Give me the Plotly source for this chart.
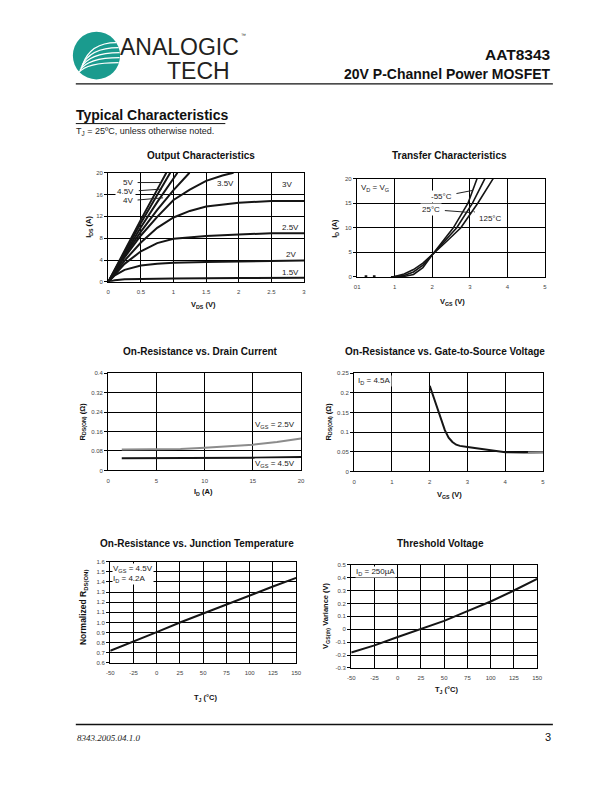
import plotly.graph_objects as go

W, H = 612, 792
FONT = "Liberation Sans, Arial, Helvetica, sans-serif"

# ---------------- data ----------------
# Output characteristics: VDS (V) vs IDS (A) for several VGS
oc_5v_x = [0, 0.25, 0.5, 0.75, 0.89]
oc_5v_y = [0, 5.8, 11.4, 16.9, 20]
oc_45v_x = [0, 0.25, 0.5, 0.75, 0.95]
oc_45v_y = [0, 5.5, 10.8, 15.9, 20]
oc_4v_x = [0, 0.25, 0.5, 0.75, 1.06]
oc_4v_y = [0, 5.1, 10.0, 14.6, 20]
oc_x4_x = [0, 0.25, 0.5, 0.75, 1.0, 1.245]
oc_x4_y = [0, 4.8, 9.2, 13.2, 16.8, 20]
oc_35v_x = [0, 0.25, 0.5, 0.75, 1.0, 1.25, 1.5, 1.75, 1.92]
oc_35v_y = [0, 4.5, 8.5, 11.9, 15.0, 16.9, 18.5, 19.5, 20]
oc_3v_x = [0, 0.25, 0.5, 0.75, 1.0, 1.25, 1.5, 2.0, 2.5, 3.0]
oc_3v_y = [0, 3.9, 7.2, 9.9, 11.8, 13.0, 13.8, 14.5, 14.8, 14.8]
oc_25v_x = [0, 0.25, 0.5, 0.75, 1.0, 1.5, 2.0, 2.5, 3.0]
oc_25v_y = [0, 3.3, 5.6, 7.1, 7.9, 8.4, 8.7, 8.9, 8.9]
oc_2v_x = [0, 0.1, 0.25, 0.5, 0.75, 1.0, 1.5, 2.0, 3.0]
oc_2v_y = [0, 1.2, 2.2, 3.0, 3.3, 3.5, 3.65, 3.75, 3.9]
oc_15v_x = [0, 0.1, 0.25, 0.5, 1.0, 2.0, 3.0]
oc_15v_y = [0, 0.3, 0.5, 0.55, 0.62, 0.7, 0.75]

# Transfer characteristics: VGS (V) vs ID (A)
tc_m55_x = [1.05, 1.25, 1.5, 1.75, 2.0, 2.25, 2.56, 2.95, 3.19]
tc_m55_y = [0.0, 0.1, 0.5, 1.9, 4.5, 7.0, 10.0, 15.0, 20.0]
tc_25_x = [0.95, 1.25, 1.5, 1.75, 2.0, 2.3, 2.65, 3.07, 3.40]
tc_25_y = [0.0, 0.3, 1.0, 2.4, 4.5, 7.0, 10.0, 15.0, 20.0]
tc_125_x = [0.9, 1.0, 1.25, 1.5, 1.75, 2.0, 2.35, 2.76, 3.21, 3.62]
tc_125_y = [0.0, 0.1, 0.6, 1.5, 2.8, 4.5, 7.0, 10.0, 15.0, 20.0]
tc_dash_x = [0.2, 0.27, None, 0.42, 0.49]
tc_dash_y = [0.15, 0.15, None, 0.15, 0.15]

# On-resistance vs drain current
rd_25_x = [1.4, 5, 7.5, 10, 12.5, 15, 17.5, 20]
rd_25_y = [0.086, 0.087, 0.088, 0.093, 0.099, 0.106, 0.117, 0.131]
rd_45_x = [1.4, 5, 10, 15, 20]
rd_45_y = [0.050, 0.050, 0.050, 0.052, 0.055]

# On-resistance vs gate-to-source voltage
rg_x = [2.0, 2.1, 2.2, 2.3, 2.4, 2.5, 2.6, 2.7, 2.8, 3.0, 3.5, 4.0, 4.5, 5.0]
rg_y = [0.218, 0.19, 0.16, 0.13, 0.105, 0.086, 0.075, 0.068, 0.065, 0.062, 0.055, 0.049, 0.048, 0.049]
rg_tail_x = [4.6, 5.0]
rg_tail_y = [0.048, 0.049]

# Normalized on-resistance vs junction temperature
rt_x = [-50, -25, 0, 25, 50, 75, 100, 125, 150]
rt_y = [0.72, 0.81, 0.905, 1.0, 1.09, 1.18, 1.27, 1.355, 1.44]

# Threshold voltage variance vs junction temperature
vt_x = [-50, -25, 0, 25, 50, 75, 100, 125, 150]
vt_y = [-0.18, -0.125, -0.06, 0.0, 0.065, 0.14, 0.215, 0.30, 0.39]

# tick labels
oc_xt = [0, 0.5, 1, 1.5, 2, 2.5, 3]
oc_xl = ["0", "0.5", "1", "1.5", "2", "2.5", "3"]
oc_yt = [0, 4, 8, 12, 16, 20]
oc_yl = ["0", "4", "8", "12", "16", "20"]
tc_xt = [0, 1, 2, 3, 4, 5]
tc_xl = ["01", "1", "2", "3", "4", "5"]
tc_yt = [0, 5, 10, 15, 20]
tc_yl = ["0", "5", "10", "15", "20"]
rd_xt = [0, 5, 10, 15, 20]
rd_xl = ["0", "5", "10", "15", "20"]
rd_yt = [0, 0.08, 0.16, 0.24, 0.32, 0.4]
rd_yl = ["0", "0.08", "0.16", "0.24", "0.32", "0.4"]
rg_xt = [0, 1, 2, 3, 4, 5]
rg_xl = ["0", "1", "2", "3", "4", "5"]
rg_yt = [0, 0.05, 0.1, 0.15, 0.2, 0.25]
rg_yl = ["0", "0.05", "0.1", "0.15", "0.2", "0.25"]
t_xt = [-50, -25, 0, 25, 50, 75, 100, 125, 150]
t_xl = ["-50", "-25", "0", "25", "50", "75", "100", "125", "150"]
rt_yt = [0.6, 0.7, 0.8, 0.9, 1.0, 1.1, 1.2, 1.3, 1.4, 1.5, 1.6]
rt_yl = ["0.6", "0.7", "0.8", "0.9", "1.0", "1.1", "1.2", "1.3", "1.4", "1.5", "1.6"]
vt_yt = [-0.3, -0.2, -0.1, 0, 0.1, 0.2, 0.3, 0.4, 0.5]
vt_yl = ["-0.3", "-0.2", "-0.1", "0", "0.1", "0.2", "0.3", "0.4", "0.5"]


def fx(x):
    return x / W


def fy(y):
    return 1 - y / H


fig = go.Figure()

# panel geometry in pixels: (x0, x1, ytop, ybottom), ranges, ticks
panels = [
    ((106, 305, 171, 281), [0, 3], [0, 20], oc_xt, oc_xl, oc_yt, oc_yl),
    ((359, 550, 177, 276), [0, 5], [0, 20], tc_xt, tc_xl, tc_yt, tc_yl),
    ((106, 302, 373, 471), [0, 20], [0, 0.4], rd_xt, rd_xl, rd_yt, rd_yl),
    ((356, 548, 373, 472), [0, 5], [0, 0.25], rg_xt, rg_xl, rg_yt, rg_yl),
    ((108, 297, 563, 665), [-50, 150], [0.6, 1.6], t_xt, t_xl, rt_yt, rt_yl),
    ((353, 542, 566, 670), [-50, 150], [-0.3, 0.5], t_xt, t_xl, vt_yt, vt_yl),
]

tickfont = dict(size=6, color="#444", family=FONT)
layout_axes = {}
for i, (box, xr, yr, xt, xl, yt, yl) in enumerate(panels, start=1):
    x0, x1, yt0, yb0 = box
    sfx = "" if i == 1 else str(i)
    layout_axes["xaxis" + sfx] = dict(
        domain=[fx(x0), fx(x1)], range=xr, anchor="y" + sfx,
        tickvals=xt, ticktext=xl, tickfont=tickfont,
        showgrid=True, gridcolor="black", gridwidth=1,
        showline=True, linecolor="black", linewidth=1.4, mirror=True,
        zeroline=False, ticks="outside", ticklen=4, tickcolor="rgba(0,0,0,0)",
        fixedrange=True,
    )
    layout_axes["yaxis" + sfx] = dict(
        domain=[fy(yb0), fy(yt0)], range=yr, anchor="x" + sfx,
        tickvals=yt, ticktext=yl, tickfont=tickfont,
        showgrid=True, gridcolor="black", gridwidth=1,
        showline=True, linecolor="black", linewidth=1.4, mirror=True,
        zeroline=False, ticks="outside", ticklen=3, tickcolor="black", tickwidth=1,
        fixedrange=True,
    )

LINE = dict(color="#151515", width=2)


def add(x, y, i, line=LINE):
    sfx = "" if i == 1 else str(i)
    fig.add_trace(go.Scatter(x=x, y=y, mode="lines", line=line,
                             xaxis="x" + sfx, yaxis="y" + sfx,
                             hoverinfo="skip", showlegend=False))


# panel 1
for xs, ys in [(oc_15v_x, oc_15v_y), (oc_2v_x, oc_2v_y), (oc_25v_x, oc_25v_y),
               (oc_3v_x, oc_3v_y), (oc_35v_x, oc_35v_y), (oc_x4_x, oc_x4_y),
               (oc_4v_x, oc_4v_y), (oc_45v_x, oc_45v_y), (oc_5v_x, oc_5v_y)]:
    add(xs, ys, 1)
# panel 2
for xs, ys in [(tc_125_x, tc_125_y), (tc_25_x, tc_25_y), (tc_m55_x, tc_m55_y)]:
    add(xs, ys, 2, dict(color="#151515", width=1.6))
add(tc_dash_x, tc_dash_y, 2, dict(color="#151515", width=1.6))
# panel 3
add(rd_25_x, rd_25_y, 3, dict(color="#8c8c8c", width=2))
add(rd_45_x, rd_45_y, 3)
# panel 4
add(rg_x, rg_y, 4)
add(rg_tail_x, rg_tail_y, 4, dict(color="#8c8c8c", width=2))
# panel 5
add(rt_x, rt_y, 5)
# panel 6
add(vt_x, vt_y, 6)

ann = []


def ptext(text, x, y, size=9, bold=False, xanchor="center", yanchor="middle",
          color="#111", family=FONT, bg=None, angle=0, align="left"):
    t = "<b>%s</b>" % text if bold else text
    d = dict(text=t, x=fx(x), y=fy(y), xref="paper", yref="paper",
             xanchor=xanchor, yanchor=yanchor, showarrow=False,
             font=dict(size=size, color=color, family=family),
             textangle=angle, align=align, borderpad=0)
    if bg:
        d["bgcolor"] = bg
    ann.append(d)


# chart titles
TS = 10
ptext("Output Characteristics", 200, 154, TS, True)
ptext("Transfer Characteristics", 453, 154, TS, True)
ptext("On-Resistance vs. Drain Current", 200, 351, TS, True)
ptext("On-Resistance vs. Gate-to-Source Voltage", 448, 351, TS, True)
ptext("On-Resistance vs. Junction Temperature", 196, 545, TS, True)
ptext("Threshold Voltage", 444, 545, TS, True)

# axis titles
AX = 7.5
ptext("V<sub>DS</sub> (V)", 203, 304, AX, True)
ptext("I<sub>DS</sub> (A)", 87, 226, AX, True, angle=-90)
ptext("V<sub>GS</sub> (V)", 456, 301, AX, True)
ptext("I<sub>D</sub> (A)", 337, 227, AX, True, angle=-90)
ptext("I<sub>D</sub> (A)", 203, 493, AX, True)
ptext("R<sub>DS(ON)</sub> (Ω)", 80, 422, AX, True, angle=-90)
ptext("V<sub>GS</sub> (V)", 453, 496, AX, True)
ptext("R<sub>DS(ON)</sub> (Ω)", 330, 422, AX, True, angle=-90)
ptext("T<sub>J</sub> (°C)", 205, 700, AX, True)
ptext("Normalized R<sub>DS(ON)</sub>", 81, 609, 8.5, True, angle=-90)
ptext("T<sub>J</sub> (°C)", 450, 692, AX, True)
ptext("V<sub>GS(th)</sub> Variance (V)", 328, 617, AX, True, angle=-90)


def dlabel(text, x, y, i, xanchor="center", yanchor="middle", bg=None, size=8):
    sfx = "" if i == 1 else str(i)
    d = dict(text=text, x=x, y=y, xref="x" + sfx, yref="y" + sfx,
             xanchor=xanchor, yanchor=yanchor, showarrow=False,
             font=dict(size=size, color="#222", family=FONT), borderpad=0)
    if bg:
        d["bgcolor"] = bg
    ann.append(d)


def leader(text, x, y, ax, ay, i, bg="white", size=8):
    sfx = "" if i == 1 else str(i)
    d = dict(text=text, x=x, y=y, xref="x" + sfx, yref="y" + sfx,
             ax=ax, ay=ay, showarrow=True, arrowhead=0, arrowwidth=1,
             arrowcolor="#222", standoff=0, startstandoff=3,
             font=dict(size=size, color="#222", family=FONT), borderpad=1)
    if bg:
        d["bgcolor"] = bg
    ann.append(d)


# panel 1 labels
dlabel("3.5V", 1.8, 18.0, 1)
dlabel("3V", 2.74, 17.8, 1)
dlabel("2.5V", 2.8, 10.0, 1)
dlabel("2V", 2.8, 5.1, 1)
dlabel("1.5V", 2.8, 1.8, 1)
leader("5V", 0.81, 18.2, -33, 0, 1)
leader("4.5V", 0.82, 17.0, -36, 2.5, 1)
leader("4V", 0.84, 15.4, -35, 3, 1)

# panel 2 labels
ptext("V<sub>D</sub> = V<sub>G</sub>", 362, 186, 8, xanchor="left", color="#222", bg="white")
leader("-55°C", 3.07, 17.6, -31, 6, 2, bg="white")
leader("25°C", 3.04, 13.1, -40, -3, 2, bg="white")
leader("125°C", 3.10, 13.3, 17, 7, 2, bg="white")

# panel 3 labels
dlabel("V<sub>GS</sub> = 2.5V", 17.3, 0.163, 3, yanchor="bottom", bg="white")
dlabel("V<sub>GS</sub> = 4.5V", 17.3, 0.028, 3, bg="white")

# panel 4 label
ptext("I<sub>D</sub> = 4.5A", 359, 381, 8, xanchor="left", color="#222", bg="white")

# panel 5 label
ptext("V<sub>GS</sub> = 4.5V<br>I<sub>D</sub> = 4.2A", 110, 575, 8, xanchor="left",
      color="#222", bg="white")

# panel 6 label
ptext("I<sub>D</sub> = 250µA", 357, 573, 8, xanchor="left", color="#222", bg="white")

# header
ptext("AAT8343", 557, 52, 15.5, True, xanchor="right", color="#111")
ptext("20V P-Channel Power MOSFET", 557, 72, 14, True, xanchor="right", color="#111")
ptext("Typical Characteristics", 72, 113, 14, True, xanchor="left", color="#111")
ptext("T<sub>J</sub> = 25ºC, unless otherwise noted.", 72, 129, 9, xanchor="left", color="#222")
ptext("ANALOGIC", 117, 44, 23, xanchor="left", color="#231f20")
ptext("TECH", 231, 69, 23, xanchor="right", color="#231f20")
ptext("™", 243, 32, 5, color="#231f20")

# footer
ptext("<i>8343.2005.04.1.0</i>", 73, 741, 9, xanchor="left", color="#222",
      family="Liberation Serif, Times New Roman, serif")
ptext("3", 557, 740, 11, xanchor="right", color="#111")

shapes = []


def hline(x0, x1, y, w=1.3):
    shapes.append(dict(type="line", xref="paper", yref="paper",
                       x0=fx(x0), x1=fx(x1), y0=fy(y), y1=fy(y),
                       line=dict(color="#111", width=w)))


hline(73, 558, 81.5, 1.4)
hline(73, 225, 121.5, 1.0)
hline(73, 558, 727, 1.4)

# logo circle
shapes.append(dict(type="circle", xref="paper", yref="paper",
                   x0=fx(70), x1=fx(118), y0=fy(77), y1=fy(29),
                   fillcolor="#1a9b8e", line=dict(width=0)))


def pp(x, y):
    return "%.5f,%.5f" % (fx(x), fy(y))


for yend, xend, sx, sy in [(40, 114, 80, 62), (45, 116.5, 79, 64),
                           (50, 117.5, 78, 66), (55, 117.5, 77, 68),
                           (60, 116.5, 76, 70)]:
    path = "M %s Q %s %s" % (pp(sx, sy), pp(sx + 8, yend), pp(xend, yend))
    shapes.append(dict(type="path", xref="paper", yref="paper", path=path,
                       line=dict(color="white", width=1.2)))

fig.update_layout(
    width=W, height=H, margin=dict(l=0, r=0, t=0, b=0),
    paper_bgcolor="white", plot_bgcolor="white", showlegend=False,
    annotations=ann, shapes=shapes, font=dict(family=FONT),
    **layout_axes,
)

fig.write_html(
    "out.html",
    config={"displayModeBar": False},
    post_script="document.body.style.margin='0';document.body.style.padding='0';",
)
